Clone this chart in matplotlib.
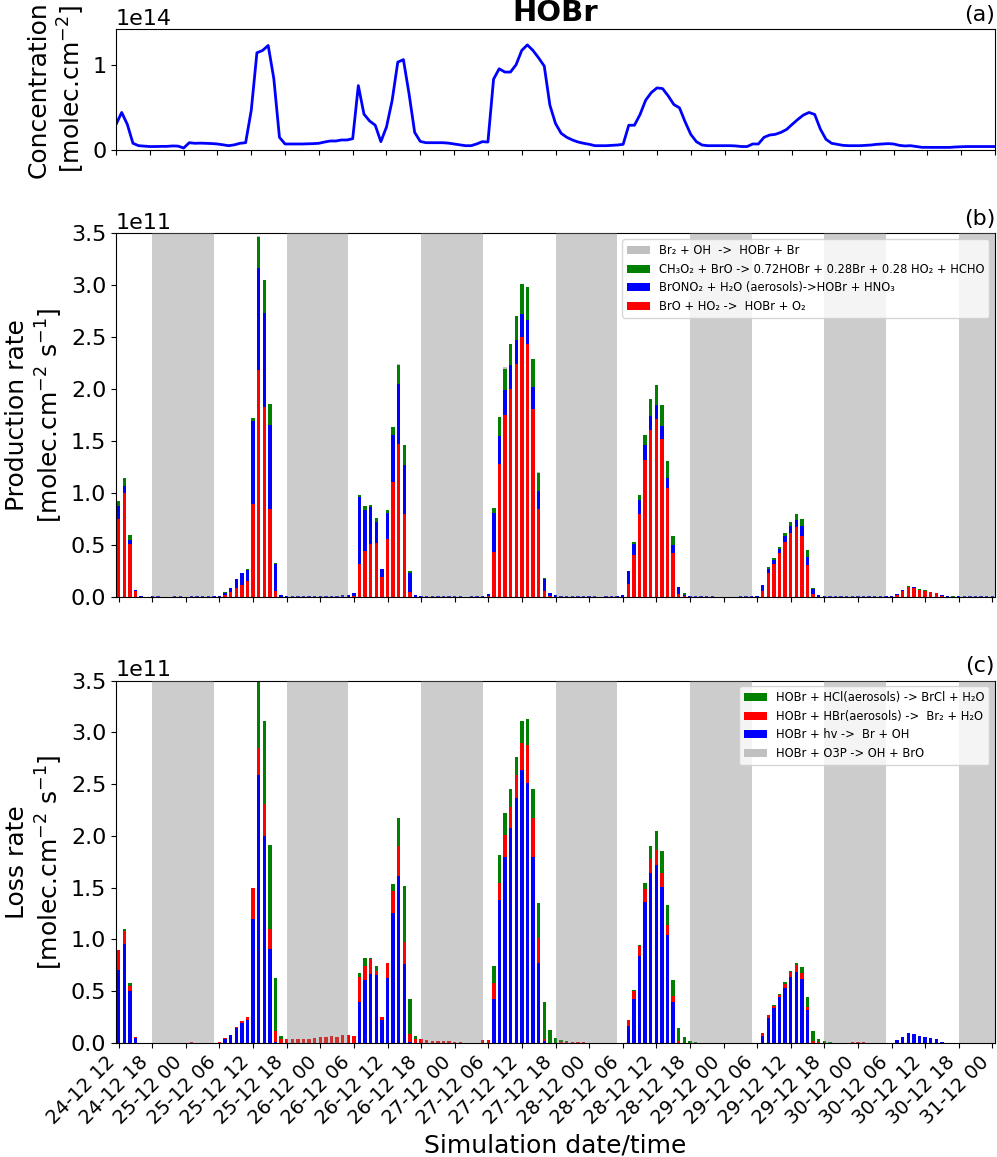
import numpy as np
import matplotlib
matplotlib.use("Agg")
import matplotlib.pyplot as plt

# hourly time axis, 24-12 12:00 -> 31-12 00:00
hours = np.arange(157)

tick_labels = ['24-12 12', '24-12 18',
               '25-12 00', '25-12 06', '25-12 12', '25-12 18',
               '26-12 00', '26-12 06', '26-12 12', '26-12 18',
               '27-12 00', '27-12 06', '27-12 12', '27-12 18',
               '28-12 00', '28-12 06', '28-12 12', '28-12 18',
               '29-12 00', '29-12 06', '29-12 12', '29-12 18',
               '30-12 00', '30-12 06', '30-12 12', '30-12 18',
               '31-12 00']

# night periods (18h -> 05h), hour index of start
night_start = [6, 30, 54, 78, 102, 126, 150]
night_end = [17, 41, 65, 89, 113, 137, 160]

# HOBr column (1e14 molec/cm2)
conc = [0.30, 0.44, 0.30, 0.078, 0.05, 0.045, 0.04, 0.04, 0.042, 0.042, 0.047, 0.045,
        0.023, 0.085, 0.078, 0.08, 0.078, 0.075, 0.07, 0.06, 0.05, 0.06, 0.078, 0.085,
        0.467, 1.14, 1.167, 1.226, 0.837, 0.148, 0.07, 0.07, 0.07, 0.07, 0.072, 0.074,
        0.078, 0.093, 0.105, 0.105, 0.117, 0.117, 0.132, 0.755, 0.42, 0.34, 0.29, 0.097,
        0.27, 0.58, 1.03, 1.06, 0.66, 0.206, 0.10, 0.085, 0.085, 0.085, 0.085, 0.08,
        0.07, 0.06, 0.05, 0.05, 0.07, 0.097, 0.093, 0.83, 0.953, 0.914, 0.914, 1.0,
        1.167, 1.233, 1.167, 1.08, 0.984, 0.525, 0.31, 0.195, 0.148, 0.117, 0.093, 0.078,
        0.066, 0.05, 0.05, 0.05, 0.054, 0.058, 0.066, 0.29, 0.29, 0.416, 0.584, 0.673,
        0.728, 0.72, 0.634, 0.533, 0.494, 0.33, 0.183, 0.097, 0.058, 0.05, 0.05, 0.05,
        0.05, 0.05, 0.047, 0.04, 0.04, 0.07, 0.07, 0.148, 0.175, 0.183, 0.206, 0.24,
        0.30, 0.358, 0.41, 0.44, 0.416, 0.245, 0.125, 0.078, 0.066, 0.054, 0.05, 0.05,
        0.05, 0.054, 0.058, 0.066, 0.07, 0.074, 0.07, 0.054, 0.047, 0.05, 0.04, 0.031,
        0.03, 0.03, 0.03, 0.03, 0.03, 0.035, 0.038, 0.04, 0.04, 0.04, 0.04, 0.04,
        0.04]

# production terms (1e11 molec/cm2/s)
prod_bro_ho2 = [0.75, 1.00, 0.51, 0.055, 0, 0, 0, 0, 0, 0, 0, 0,
                0, 0, 0, 0, 0, 0, 0, 0.02, 0.05, 0.09, 0.12, 0.15,
                0.90, 2.19, 1.83, 0.85, 0.06, 0, 0, 0, 0, 0, 0, 0,
                0, 0, 0, 0, 0, 0, 0.01, 0.32, 0.44, 0.51, 0.52, 0.19,
                0.56, 1.11, 1.475, 0.80, 0.05, 0, 0, 0, 0, 0, 0, 0,
                0, 0, 0, 0, 0, 0, 0.005, 0.43, 1.28, 1.75, 2.00, 2.24,
                2.50, 2.44, 1.81, 0.85, 0.06, 0.01, 0, 0, 0, 0, 0, 0,
                0, 0, 0, 0, 0, 0, 0, 0.13, 0.40, 0.80, 1.32, 1.61,
                1.71, 1.52, 1.05, 0.42, 0.03, 0.01, 0, 0, 0, 0, 0, 0,
                0, 0, 0, 0, 0, 0, 0, 0.06, 0.23, 0.32, 0.42, 0.53,
                0.62, 0.67, 0.59, 0.31, 0.03, 0, 0, 0, 0, 0, 0, 0,
                0, 0, 0, 0, 0, 0, 0, 0.02, 0.055, 0.093, 0.087, 0.067,
                0.055, 0.048, 0.038, 0.01, 0, 0, 0, 0, 0, 0, 0, 0,
                0]
prod_brono2 = [0.13, 0.07, 0.04, 0.012, 0.01, 0, 0.006, 0.006, 0, 0, 0.006, 0.006,
               0, 0.006, 0.006, 0.006, 0.006, 0.006, 0.008, 0.02, 0.04, 0.08, 0.11, 0.11,
               0.79, 0.98, 0.90, 0.81, 0.26, 0.02, 0.012, 0.01, 0.01, 0.012, 0.01, 0.01,
               0.012, 0.012, 0.012, 0.012, 0.015, 0.02, 0.025, 0.64, 0.40, 0.36, 0.20, 0.08,
               0.25, 0.45, 0.58, 0.47, 0.18, 0.02, 0.008, 0.008, 0.008, 0.008, 0.008, 0.008,
               0.008, 0.008, 0, 0.008, 0.008, 0.01, 0.02, 0.38, 0.27, 0.24, 0.23, 0.23,
               0.22, 0.23, 0.21, 0.17, 0.11, 0.03, 0.015, 0.008, 0.008, 0.008, 0.008, 0.008,
               0.008, 0.008, 0, 0.008, 0.008, 0.008, 0.02, 0.12, 0.11, 0.13, 0.14, 0.135,
               0.135, 0.13, 0.10, 0.08, 0.065, 0.01, 0.008, 0.006, 0.006, 0.008, 0.008, 0,
               0, 0, 0, 0.006, 0.008, 0.008, 0.01, 0.06, 0.04, 0.04, 0.045, 0.06,
               0.06, 0.075, 0.09, 0.08, 0.045, 0.02, 0.008, 0.008, 0.008, 0.008, 0.008, 0.008,
               0.008, 0.008, 0.008, 0.008, 0.008, 0.008, 0.01, 0.01, 0.012, 0, 0.01, 0,
               0, 0, 0, 0.01, 0.01, 0, 0.008, 0.008, 0.008, 0.008, 0.008, 0.008,
               0.008]
prod_ch3o2 = [0.04, 0.075, 0.05, 0, 0, 0, 0, 0, 0, 0, 0, 0,
              0, 0, 0, 0, 0, 0, 0, 0.01, 0, 0, 0, 0.01,
              0.03, 0.30, 0.32, 0.20, 0.01, 0, 0, 0, 0, 0, 0, 0,
              0, 0, 0, 0, 0, 0, 0, 0.02, 0.04, 0.02, 0.04, 0,
              0.03, 0.08, 0.18, 0.19, 0.02, 0, 0, 0, 0, 0, 0, 0,
              0, 0, 0, 0, 0, 0, 0, 0.05, 0.18, 0.21, 0.21, 0.24,
              0.29, 0.31, 0.27, 0.17, 0.01, 0, 0, 0, 0, 0, 0, 0,
              0, 0, 0, 0, 0, 0, 0, 0, 0.02, 0.05, 0.10, 0.16,
              0.20, 0.20, 0.16, 0.09, 0.005, 0.015, 0, 0, 0, 0, 0, 0,
              0, 0, 0, 0, 0, 0, 0, 0, 0.015, 0.02, 0.02, 0.025,
              0.04, 0.055, 0.07, 0.06, 0.01, 0, 0, 0, 0, 0, 0, 0,
              0, 0, 0, 0, 0, 0, 0, 0, 0, 0.013, 0, 0.01,
              0.012, 0, 0, 0, 0, 0.01, 0, 0, 0, 0, 0, 0,
              0]
prod_br2_oh = [0, 0, 0, 0, 0, 0, 0, 0, 0, 0, 0, 0,
               0, 0, 0, 0, 0, 0, 0, 0, 0, 0, 0, 0,
               0, 0.005, 0, 0, 0, 0, 0, 0, 0, 0, 0, 0,
               0, 0, 0, 0, 0, 0, 0, 0, 0, 0, 0, 0,
               0, 0, 0.005, 0, 0, 0, 0, 0, 0, 0, 0, 0,
               0, 0, 0, 0, 0, 0, 0, 0, 0, 0.01, 0, 0,
               0, 0, 0, 0.01, 0, 0, 0, 0, 0, 0, 0, 0,
               0, 0, 0, 0, 0, 0, 0, 0, 0, 0, 0, 0,
               0, 0, 0, 0, 0, 0, 0, 0, 0, 0, 0, 0,
               0, 0, 0, 0, 0, 0, 0, 0, 0, 0, 0, 0,
               0, 0, 0, 0, 0, 0, 0, 0, 0, 0, 0, 0,
               0, 0, 0, 0, 0, 0, 0, 0, 0, 0, 0, 0,
               0, 0, 0, 0, 0, 0, 0, 0, 0, 0, 0, 0,
               0]

# loss terms (1e11 molec/cm2/s)
loss_o3p = [0, 0, 0, 0, 0, 0, 0, 0, 0, 0, 0, 0,
            0, 0, 0, 0, 0, 0, 0, 0, 0, 0, 0, 0,
            0, 0, 0, 0, 0, 0, 0, 0, 0, 0, 0, 0,
            0, 0, 0, 0, 0, 0, 0, 0, 0, 0, 0, 0,
            0, 0, 0, 0, 0, 0, 0, 0, 0, 0, 0, 0,
            0, 0, 0, 0, 0, 0, 0, 0, 0, 0, 0, 0,
            0, 0, 0, 0, 0, 0, 0, 0, 0, 0, 0, 0,
            0, 0, 0, 0, 0, 0, 0, 0, 0, 0, 0, 0,
            0, 0, 0, 0, 0, 0, 0, 0, 0, 0, 0, 0,
            0, 0, 0, 0, 0, 0, 0, 0, 0, 0, 0, 0,
            0, 0, 0, 0, 0, 0, 0, 0, 0, 0, 0, 0,
            0, 0, 0, 0, 0, 0, 0, 0, 0, 0, 0, 0,
            0, 0, 0, 0, 0, 0, 0, 0, 0, 0, 0, 0,
            0]
loss_hv = [0.71, 0.96, 0.50, 0.05, 0, 0, 0, 0, 0, 0, 0, 0,
           0, 0, 0, 0, 0, 0, 0, 0.04, 0.077, 0.148, 0.19, 0.225,
           1.20, 2.59, 2.00, 0.91, 0.01, 0, 0, 0, 0, 0, 0, 0,
           0, 0, 0, 0, 0, 0, 0, 0.40, 0.61, 0.67, 0.66, 0.225,
           0.63, 1.26, 1.61, 0.76, 0.01, 0, 0, 0, 0, 0, 0, 0,
           0, 0, 0, 0, 0, 0, 0, 0.43, 1.38, 1.80, 2.08, 2.37,
           2.64, 2.51, 1.80, 0.77, 0.02, 0, 0, 0, 0, 0, 0, 0,
           0, 0, 0, 0, 0, 0, 0, 0.16, 0.43, 0.84, 1.36, 1.64,
           1.72, 1.51, 1.04, 0.40, 0, 0, 0, 0, 0, 0, 0, 0,
           0, 0, 0, 0, 0, 0, 0, 0.068, 0.24, 0.34, 0.44, 0.53,
           0.64, 0.69, 0.615, 0.32, 0, 0, 0, 0, 0, 0, 0, 0,
           0, 0, 0, 0, 0, 0, 0, 0.03, 0.06, 0.097, 0.087, 0.068,
           0.058, 0.048, 0.039, 0.01, 0, 0, 0, 0, 0, 0, 0, 0,
           0]
loss_hbr = [0.19, 0.12, 0.055, 0.006, 0, 0, 0, 0, 0, 0, 0, 0,
            0, 0.008, 0, 0, 0, 0, 0.01, 0.01, 0, 0.01, 0.02, 0.025,
            0.30, 0.26, 0.31, 0.19, 0.105, 0.04, 0.04, 0.04, 0.04, 0.04, 0.04, 0.048,
            0.058, 0.058, 0.067, 0.058, 0.077, 0.077, 0.067, 0.24, 0.135, 0.145, 0.04, 0.025,
            0.145, 0.21, 0.29, 0.22, 0.077, 0.04, 0.04, 0.03, 0.02, 0.02, 0.02, 0.02,
            0.01, 0.01, 0, 0, 0, 0.03, 0.03, 0.145, 0.17, 0.21, 0.20, 0.22,
            0.26, 0.37, 0.37, 0.245, 0.02, 0, 0, 0.01, 0.01, 0.01, 0.01, 0.01,
            0, 0, 0, 0, 0, 0, 0, 0.06, 0.07, 0.10, 0.125, 0.135,
            0.145, 0.135, 0.10, 0.05, 0.02, 0, 0, 0, 0, 0, 0, 0,
            0, 0, 0, 0, 0, 0.005, 0.005, 0.03, 0.03, 0.016, 0.025, 0.042,
            0.045, 0.06, 0.057, 0.026, 0.02, 0.01, 0, 0, 0, 0, 0, 0.008,
            0.008, 0.008, 0, 0, 0, 0, 0, 0, 0, 0, 0, 0,
            0, 0, 0, 0, 0, 0, 0, 0, 0, 0, 0, 0,
            0]
loss_hcl = [0, 0.02, 0.02, 0, 0, 0, 0, 0, 0, 0, 0, 0,
            0, 0, 0, 0, 0, 0, 0, 0, 0, 0, 0, 0,
            0, 0.65, 0.80, 0.81, 0.51, 0.03, 0, 0, 0, 0, 0, 0,
            0, 0, 0, 0, 0, 0, 0, 0.04, 0.075, 0.01, 0.04, 0,
            0, 0.07, 0.27, 0.54, 0.34, 0.03, 0, 0, 0, 0, 0, 0,
            0, 0, 0, 0, 0, 0, 0, 0.165, 0.27, 0.21, 0.17, 0.17,
            0.21, 0.25, 0.28, 0.335, 0.36, 0.125, 0.048, 0.02, 0.01, 0, 0, 0,
            0, 0, 0, 0, 0, 0, 0, 0, 0.01, 0.01, 0.06, 0.125,
            0.18, 0.21, 0.19, 0.16, 0.125, 0.058, 0.02, 0.01, 0, 0, 0, 0,
            0, 0, 0, 0, 0, 0, 0, 0, 0, 0.01, 0.013, 0.013,
            0.013, 0.026, 0.062, 0.10, 0.096, 0.03, 0.02, 0.008, 0, 0, 0, 0,
            0, 0, 0, 0, 0, 0, 0, 0, 0, 0, 0, 0,
            0, 0, 0, 0, 0, 0, 0, 0, 0, 0, 0, 0,
            0]

prod_terms = [(prod_bro_ho2, 'red', 'BrO + HO₂ ->  HOBr + O₂'),
              (prod_brono2, 'blue', 'BrONO₂ + H₂O (aerosols)->HOBr + HNO₃'),
              (prod_ch3o2, 'green', 'CH₃O₂ + BrO -> 0.72HOBr + 0.28Br + 0.28 HO₂ + HCHO'),
              (prod_br2_oh, 'silver', 'Br₂ + OH  ->  HOBr + Br')]
loss_terms = [(loss_o3p, 'silver', 'HOBr + O3P -> OH + BrO'),
              (loss_hv, 'blue', 'HOBr + hv ->  Br + OH'),
              (loss_hbr, 'red', 'HOBr + HBr(aerosols) ->  Br₂ + H₂O'),
              (loss_hcl, 'green', 'HOBr + HCl(aerosols) -> BrCl + H₂O')]

fig = plt.figure(figsize=(9.97, 11.57), dpi=100)
ax_a = fig.add_axes([0.1164, 0.8704, 0.8816, 0.1046])
ax_b = fig.add_axes([0.1164, 0.4840, 0.8816, 0.3142])
ax_c = fig.add_axes([0.1164, 0.0985, 0.8816, 0.3133])

# (a) concentration
ax_a.plot(hours, np.array(conc) * 1e14, color='blue', lw=2)
ax_a.set_xlim(0, 156)
ax_a.set_ylim(0, 1.42e14)
ax_a.set_yticks([0, 1e14])
ax_a.set_xticks(np.arange(0, 157, 6))
ax_a.set_xticklabels([])
ax_a.set_ylabel('Concentration\n[molec.cm$^{-2}$]', fontsize=18)
ax_a.set_title('HOBr', fontsize=21, fontweight='bold')
ax_a.set_title('(a)', loc='right', fontsize=16)


def stacked(ax, terms):
    bottom = np.zeros(len(hours))
    for vals, color, label in terms:
        v = np.array(vals, dtype=float)
        ax.bar(hours, v * 1e11, 0.6, bottom=bottom * 1e11, color=color, label=label, zorder=2)
        bottom += v
    for s, e in zip(night_start, night_end):
        ax.axvspan(s, e, color='gray', alpha=0.4, lw=0, zorder=3)
    h, l = ax.get_legend_handles_labels()
    ax.legend(h[::-1], l[::-1], loc='upper right', fontsize=8.3)
    ax.set_xlim(-0.47, 156.47)
    ax.set_ylim(0, 3.5e11)
    ax.set_yticks(np.arange(0, 3.51, 0.5) * 1e11)
    ax.set_xticks(np.arange(0, 157, 6))


stacked(ax_b, prod_terms)
ax_b.set_xticklabels([])
ax_b.set_ylabel('Production rate\n[molec.cm$^{-2}$ s$^{-1}$]', fontsize=18)
ax_b.set_title('(b)', loc='right', fontsize=16)

stacked(ax_c, loss_terms)
ax_c.set_xticklabels(tick_labels, rotation=45, ha='right', fontsize=14)
ax_c.set_ylabel('Loss rate\n[molec.cm$^{-2}$ s$^{-1}$]', fontsize=18)
ax_c.set_title('(c)', loc='right', fontsize=16)
ax_c.set_xlabel('Simulation date/time', fontsize=18)

for ax in (ax_a, ax_b, ax_c):
    ax.tick_params(axis='y', labelsize=16)
    ax.yaxis.get_offset_text().set_fontsize(16)

fig.savefig('out.png', dpi=100)
